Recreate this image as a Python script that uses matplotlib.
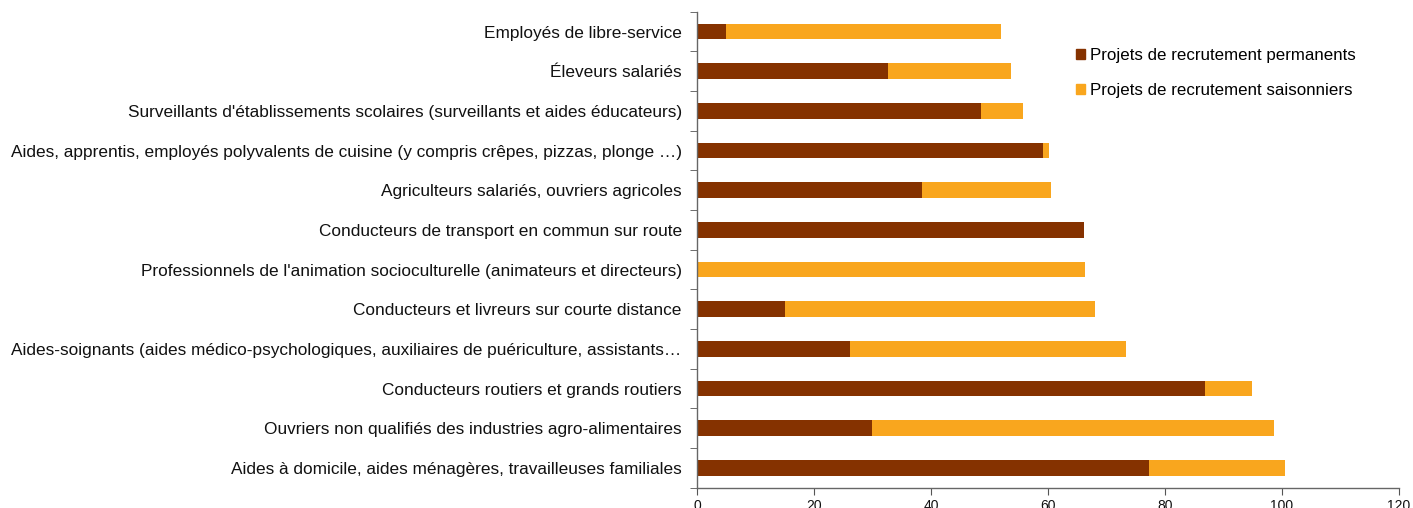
import matplotlib
matplotlib.use("Agg")
import matplotlib.pyplot as plt
import numpy as np
from matplotlib.patches import Patch

categories = [
    "Employés de libre-service",
    "Éleveurs salariés",
    "Surveillants d'établissements scolaires (surveillants et aides éducateurs)",
    "Aides, apprentis, employés polyvalents de cuisine (y compris crêpes, pizzas, plonge …)",
    "Agriculteurs salariés, ouvriers agricoles",
    "Conducteurs de transport en commun sur route",
    "Professionnels de l'animation socioculturelle (animateurs et directeurs)",
    "Conducteurs et livreurs sur courte distance",
    "Aides-soignants (aides médico-psychologiques, auxiliaires de puériculture, assistants…",
    "Conducteurs routiers et grands routiers",
    "Ouvriers non qualifiés des industries agro-alimentaires",
    "Aides à domicile, aides ménagères, travailleuses familiales",
]
permanents = [5.0, 32.6, 48.5, 59.1, 38.5, 66.2, 0.0, 15.0, 26.1, 86.8, 29.9, 77.2]
saisonniers = [47.0, 21.1, 7.3, 1.1, 22.0, 0.0, 66.4, 53.0, 47.2, 8.0, 68.7, 23.3]
series_labels = ["Projets de recrutement permanents", "Projets de recrutement saisonniers"]
xticks = [0, 20, 40, 60, 80, 100, 120]

plt.rcParams['font.family'] = ['Liberation Sans', 'DejaVu Sans']

c_perm = "#853200"
c_sais = "#F9A61E"

fig = plt.figure(figsize=(14.13, 5.08), dpi=100)
ax = fig.add_axes([697/1413, 1 - 487.7/508, (1399-697)/1413, (487.7-11.7)/508])

y = np.arange(len(categories))
ax.barh(y, permanents, height=0.4, color=c_perm, label=series_labels[0])
ax.barh(y, saisonniers, left=permanents, height=0.4, color=c_sais, label=series_labels[1])

ax.set_ylim(len(categories) - 0.5, -0.5)
ax.set_xlim(0, 120)
ax.set_xticks(xticks)
ax.set_yticks(y)
ax.set_yticklabels(categories, fontsize=12.4, color="#111111")
ax.set_yticks(np.arange(len(categories) + 1) - 0.5, minor=True)
ax.tick_params(axis='y', which='major', length=0, pad=11)
ax.tick_params(axis='y', which='minor', length=5, color="#555555")
ax.tick_params(axis='x', length=5, color="#555555", labelsize=10, labelcolor="#111111", pad=3)

for s in ['top', 'right']:
    ax.spines[s].set_visible(False)
for s in ['left', 'bottom']:
    ax.spines[s].set_color("#666666")
    ax.spines[s].set_linewidth(1.0)

handles = [Patch(color=c_perm), Patch(color=c_sais)]
fig.legend(handles, series_labels, loc='upper left', bbox_to_anchor=(1076/1413, 1 - 48/508),
           frameon=False, fontsize=12.2, handlelength=0.55, handleheight=0.55,
           handletextpad=0.3, labelspacing=1.2, borderaxespad=0, borderpad=0)

fig.savefig("out.png", dpi=100)
